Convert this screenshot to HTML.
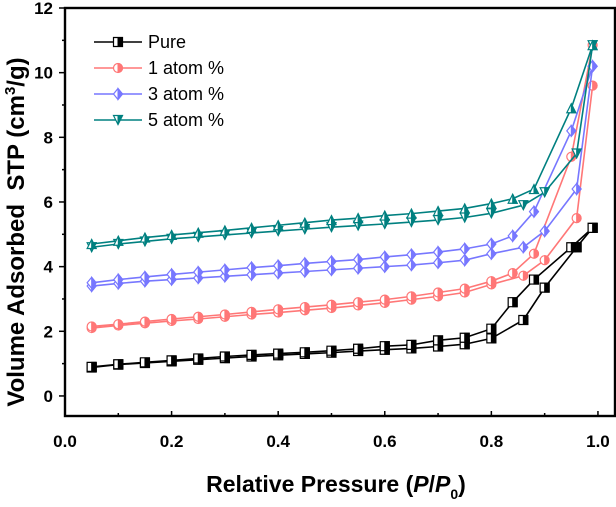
<!DOCTYPE html>
<html><head><meta charset="utf-8"><style>
body{margin:0;background:#fff}
svg text{font-family:"Liberation Sans",Arial,sans-serif;font-weight:bold}
</style></head><body>
<svg id="chart" width="616" height="502" xmlns="http://www.w3.org/2000/svg">
<g id="plot"></g>
<g id="axes"></g>
<text transform="translate(24,232) rotate(-90)" text-anchor="middle" font-size="24">Volume Adsorbed&#160; STP (cm<tspan font-size="15" dy="-9">3</tspan><tspan dy="9">/g)</tspan></text>
<text x="336" y="492" text-anchor="middle" font-size="23">Relative Pressure (<tspan font-style="italic">P</tspan>/<tspan font-style="italic">P</tspan><tspan font-size="14" dy="7">0</tspan><tspan dy="-7">)</tspan></text>
<g id="legend"></g>
</svg>
<script>
const seriesNames=["Pure","1 atom %","3 atom %","5 atom %"];
const seriesColors=["#000000","#ff7777","#7777ff","#008080"];
const adsX=[0.05,0.1,0.15,0.2,0.25,0.3,0.35,0.4,0.45,0.5,0.55,0.6,0.65,0.7,0.75,0.8,0.86,0.9,0.96,0.99];
const desX=[0.05,0.1,0.15,0.2,0.25,0.3,0.35,0.4,0.45,0.5,0.55,0.6,0.65,0.7,0.75,0.8,0.84,0.88,0.95,0.99];
const pureAds=[0.88,0.97,1.02,1.07,1.12,1.17,1.22,1.26,1.3,1.34,1.39,1.43,1.47,1.53,1.6,1.78,2.35,3.35,4.6,5.2];
const pureDes=[0.9,0.98,1.04,1.1,1.16,1.22,1.27,1.31,1.35,1.4,1.46,1.54,1.58,1.72,1.8,2.08,2.9,3.6,4.6,5.2];
const at1Ads=[2.1,2.18,2.25,2.32,2.38,2.45,2.52,2.58,2.65,2.72,2.8,2.88,2.98,3.08,3.2,3.45,3.72,4.2,5.5,9.6];
const at1Des=[2.15,2.22,2.3,2.38,2.45,2.52,2.6,2.68,2.75,2.82,2.9,2.98,3.08,3.2,3.32,3.55,3.8,4.4,7.4,10.85];
const at3Ads=[3.4,3.48,3.55,3.6,3.65,3.7,3.75,3.8,3.85,3.9,3.95,4.0,4.05,4.12,4.2,4.4,4.6,5.1,6.4,10.2];
const at3Des=[3.5,3.6,3.68,3.76,3.83,3.9,3.97,4.03,4.1,4.16,4.22,4.3,4.37,4.45,4.55,4.7,4.95,5.7,8.2,10.2];
const at5Ads=[4.6,4.7,4.78,4.86,4.92,4.98,5.04,5.1,5.16,5.22,5.27,5.32,5.38,5.44,5.52,5.65,5.9,6.3,7.5,10.85];
const at5Des=[4.7,4.8,4.9,4.98,5.05,5.12,5.2,5.28,5.36,5.44,5.5,5.58,5.64,5.72,5.8,5.95,6.1,6.4,8.9,10.85];
const xTicks=[0,0.2,0.4,0.6,0.8,1.0];
const xTickLabels=["0.0","0.2","0.4","0.6","0.8","1.0"];
const yTicks=[0,2,4,6,8,10,12];
const yTickLabels=["0","2","4","6","8","10","12"];
const allAds=[pureAds,at1Ads,at3Ads,at5Ads];
const allDes=[pureDes,at1Des,at3Des,at5Des];

const NS="http://www.w3.org/2000/svg";
const L=65,R=615,T=8,B=416,xMin=0,xMax=1.032,yMin=-0.62,yMax=12;
const sx=v=>L+(v-xMin)/(xMax-xMin)*(R-L);
const sy=v=>B-(v-yMin)/(yMax-yMin)*(B-T);
function mk(tag,attrs,parent){const e=document.createElementNS(NS,tag);for(const k in attrs)e.setAttribute(k,attrs[k]);parent.appendChild(e);return e;}
const plot=document.getElementById('plot'),axes=document.getElementById('axes'),legend=document.getElementById('legend');

function marker(type,cx,cy,color,up,parent,name){
  const g=mk('g',{},parent);
  
  
  const s=4.5;let full,half;
  if(type===0){full=`M${cx-s},${cy-s}H${cx+s}V${cy+s}H${cx-s}Z`;half=`M${cx},${cy-s}H${cx+s}V${cy+s}H${cx}Z`;}
  else if(type===1){full=`M${cx-s},${cy}A${s},${s} 0 1 1 ${cx+s},${cy}A${s},${s} 0 1 1 ${cx-s},${cy}Z`;half=`M${cx},${cy-s}A${s},${s} 0 0 1 ${cx},${cy+s}Z`;}
  else if(type===2){full=`M${cx},${cy-s-1}L${cx+s},${cy}L${cx},${cy+s+1}L${cx-s},${cy}Z`;half=`M${cx},${cy-s-1}L${cx+s},${cy}L${cx},${cy+s+1}Z`;}
  else{const d=up?-1:1;full=`M${cx-s},${cy-d*s}L${cx+s},${cy-d*s}L${cx},${cy+d*s}Z`;half=`M${cx},${cy-d*s}L${cx+s},${cy-d*s}L${cx},${cy+d*s}Z`;}
  mk('path',{d:full,fill:'#fff',stroke:color,'stroke-width':1.2},g);
  mk('path',{d:half,fill:color,stroke:color,'stroke-width':1},g);
}

for(let i=0;i<4;i++){
  const c=seriesColors[i];
  [[allAds[i],adsX,false],[allDes[i],desX,true]].forEach(([ys,xs,isDes])=>{
    const p=mk('polyline',{points:ys.map((v,j)=>sx(xs[j])+','+sy(v)).join(' '),fill:'none',stroke:c,'stroke-width':1.6},plot);
    
    
    ys.forEach((v,j)=>marker(i,sx(xs[j]),sy(v),c,isDes,plot,'point-'+i));
  });
}

const frame=mk('rect',{x:L,y:T,width:R-L,height:B-T,fill:'none',stroke:'#000','stroke-width':2.4},axes);


for(let v=0;v<=1.0001;v+=0.1){mk('line',{x1:sx(v),x2:sx(v),y1:B,y2:B-(Math.round(v*10)%2?3:5),stroke:'#000','stroke-width':1.5},axes);}
xTicks.forEach((v,i)=>{const t=mk('text',{x:sx(v),y:447,'text-anchor':'middle','font-size':17},axes);t.textContent=xTickLabels[i];
});
for(let v=0;v<=12;v+=1){mk('line',{x1:L,x2:L-(v%2?3:6),y1:sy(v),y2:sy(v),stroke:'#000','stroke-width':1.5},axes);}
yTicks.forEach((v,i)=>{const t=mk('text',{x:53,y:sy(v)+6,'text-anchor':'end','font-size':17},axes);t.textContent=yTickLabels[i];
});

seriesNames.forEach((n,i)=>{
  const y=42+i*26,c=seriesColors[i];
  const g=mk('g',{},legend);
  
  
  mk('line',{x1:94,x2:142,y1:y,y2:y,stroke:c,'stroke-width':1.6},g);
  marker(i,118,y,c,false,g,'legend-marker');
  const t=mk('text',{x:148,y:y+6,'font-size':18},g);t.style.fontWeight='normal';t.textContent=n;
});
</script>
</body></html>
